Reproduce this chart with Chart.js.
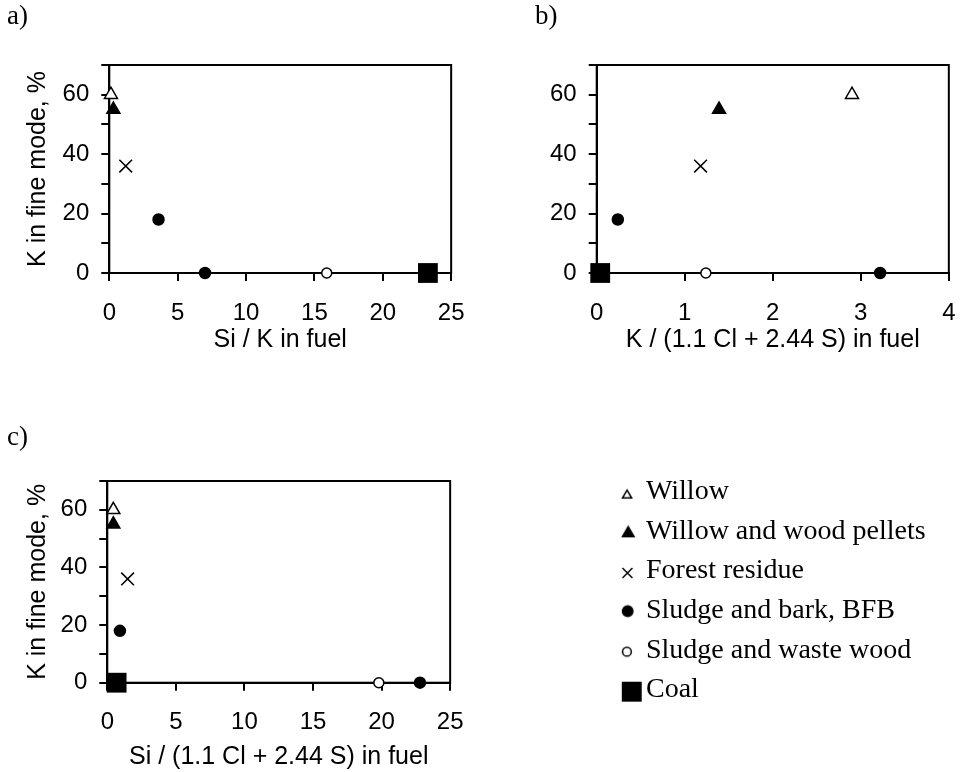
<!DOCTYPE html>
<html><head><meta charset="utf-8">
<script src="https://cdn.jsdelivr.net/npm/chart.js@4"></script>
<style>
html,body{margin:0;padding:0;background:#fff;overflow:hidden;}
body{width:960px;height:772px;position:relative;overflow:hidden;}
canvas{position:absolute;}
</style></head><body>
<canvas id="ca" width="482" height="360" style="left:0;top:0"></canvas>
<canvas id="cb" width="493" height="360" style="left:480px;top:0"></canvas>
<canvas id="cc" width="481" height="360" style="left:0;top:412px"></canvas>
<canvas id="cl" width="360" height="270" style="left:600px;top:466px"></canvas>
<script>
// ---- data ----
const seriesNames = ['Willow', 'Willow and wood pellets', 'Forest residue', 'Sludge and bark, BFB', 'Sludge and waste wood', 'Coal'];
const kFineMode = [[60], [55], [36], [18, 0], [0], [0]];           // K in fine mode, %
const siPerK = [[0.12], [0.3], [1.2], [3.6, 7.0], [15.9], [23.3]];  // panel a
const kPerClS = [[2.9], [1.39], [1.18], [0.24, 3.22], [1.24], [0.04]]; // panel b
const siPerClS = [[0.44], [0.44], [1.48], [0.92, 22.8], [19.8], [0.68]]; // panel c
const yTickLabels = [0, 20, 40, 60];
const panelLabels = ['a)', 'b)', 'c)'];
const xTitles = ['Si / K in fuel', 'K / (1.1 Cl + 2.44 S) in fuel', 'Si / (1.1 Cl + 2.44 S) in fuel'];
const yTitle = 'K in fine mode, %';

// ---- styles ----
const markerStyles = [
  {pointStyle: 'triangle', radius: 7.5, bg: '#fff', bw: 1.5},
  {pointStyle: 'triangle', radius: 7.5, bg: '#000', bw: 1.5},
  {pointStyle: 'crossRot', radius: 9, bg: '#000', bw: 1.5},
  {pointStyle: 'circle', radius: 5.5, bg: '#000', bw: 1.5},
  {pointStyle: 'circle', radius: 5, bg: '#fff', bw: 1.5},
  {pointStyle: 'rect', radius: 14, bg: '#000', bw: 0}
];
const legendMarkers = [
  {pointStyle: 'triangle', radius: 5.3, bg: '#fff', bw: 1.5, half: 5.3, dy: 3.7},
  {pointStyle: 'triangle', radius: 6.7, bg: '#000', bw: 1.5, half: 6.5, dy: 2},
  {pointStyle: 'crossRot', radius: 7, bg: '#000', bw: 1.5, half: 5.7, dy: 2},
  {pointStyle: 'circle', radius: 5.2, bg: '#000', bw: 1.5, half: 5.95, dy: 0.5},
  {pointStyle: 'circle', radius: 4.4, bg: '#fff', bw: 1.5, half: 5.15, dy: 1.4},
  {pointStyle: 'rect', radius: 14.1, bg: '#000', bw: 0, half: 10, dy: 1.7}
];

const SANS = 'Liberation Sans, Arial, sans-serif';
const SERIF = 'Liberation Serif, Times New Roman, serif';

const framePlugin = {
  id: 'frame',
  beforeDatasetsDraw(chart) {
    const {ctx, chartArea: a} = chart;
    ctx.save();
    ctx.strokeStyle = '#000';
    ctx.lineWidth = 2;
    ctx.strokeRect(a.left, a.top, a.right - a.left, a.bottom - a.top);
    ctx.restore();
  }
};

function makePanel(canvasId, xData, cfg) {
  const datasets = seriesNames.map((name, i) => ({
    label: name,
    data: xData[i].map((x, j) => ({x: x, y: kFineMode[i][j]})),
    pointStyle: markerStyles[i].pointStyle,
    pointRadius: markerStyles[i].radius,
    pointHoverRadius: markerStyles[i].radius,
    pointBackgroundColor: markerStyles[i].bg,
    pointBorderColor: '#000',
    pointBorderWidth: markerStyles[i].bw,
    showLine: false,
    clip: false
  }));
  return new Chart(document.getElementById(canvasId), {
    type: 'scatter',
    data: {datasets},
    options: {
      responsive: false,
      animation: false,
      devicePixelRatio: 1,
      events: [],
      layout: {padding: {left: cfg.padLeft, right: cfg.padRight, top: 0, bottom: 0}},
      plugins: {
        legend: {display: false},
        tooltip: {enabled: false},
        title: {
          display: true, text: cfg.label, align: 'start', color: '#000',
          font: {family: SERIF, size: 27, weight: 'normal'},
          padding: {top: cfg.titleTop, bottom: cfg.titleBottom}
        }
      },
      scales: {
        x: {
          type: 'linear', position: 'bottom', min: 0, max: cfg.xMax,
          ticks: {stepSize: cfg.xStep, color: '#000', font: {family: SANS, size: 24}, padding: 17.5, autoSkip: false, maxRotation: 0},
          grid: {display: true, drawOnChartArea: false, drawTicks: true, tickLength: 8, color: '#000', lineWidth: 2},
          border: {display: true, color: '#000', width: 2},
          title: {display: true, text: cfg.xTitle, color: '#000', font: {family: SANS, size: 25}, padding: {top: 0, bottom: cfg.xTitlePad}},
          afterFit(s) { s.height = cfg.xHeight; }
        },
        y: {
          type: 'linear', position: 'left', min: 0, max: 70,
          ticks: {stepSize: 10, color: '#000', font: {family: SANS, size: 24}, padding: 12, autoSkip: false,
                  callback: v => yTickLabels.includes(v) ? String(v) : ''},
          grid: {display: true, drawOnChartArea: false, drawTicks: true, tickLength: 8, color: '#000', lineWidth: 2},
          border: {display: true, color: '#000', width: 2},
          title: {display: cfg.yTitle, text: yTitle, color: '#000', font: {family: SANS, size: 25}, padding: {top: 16.5, bottom: 0}},
          afterFit(s) { s.width = cfg.yWidth; }
        }
      }
    },
    plugins: [framePlugin]
  });
}

makePanel('ca', siPerK, {label: panelLabels[0], xTitle: xTitles[0], xMax: 25, xStep: 5, padLeft: 7, padRight: 0,
  yWidth: 102.3, xHeight: 87, xTitlePad: 5, titleTop: 0.5, titleBottom: 32.1, yTitle: true});
makePanel('cb', kPerClS, {label: panelLabels[1], xTitle: xTitles[1], xMax: 4, xStep: 1, padLeft: 55, padRight: 0,
  yWidth: 61.7, xHeight: 87, xTitlePad: 5, titleTop: 0.5, titleBottom: 32.1, yTitle: false});
makePanel('cc', siPerClS, {label: panelLabels[2], xTitle: xTitles[2], xMax: 25, xStep: 5, padLeft: 7, padRight: 0,
  yWidth: 100.3, xHeight: 89.3, xTitlePad: 0, titleTop: 10.1, titleBottom: 26.5, yTitle: true});

// ---- legend ----
function drawMarker(ctx, m, x, y) {
  ctx.fillStyle = m.bg;
  ctx.strokeStyle = '#000';
  ctx.lineWidth = m.bw;
  if (Chart.helpers && Chart.helpers.drawPoint) {
    Chart.helpers.drawPoint(ctx, {pointStyle: m.pointStyle, radius: m.radius, borderWidth: m.bw, rotation: 0}, x, y);
  }
}
function markerImage(i) {
  const m = legendMarkers[i];
  const c = document.createElement('canvas');
  c.width = 44; c.height = 36;
  const ctx = c.getContext('2d');
  drawMarker(ctx, m, 21.87 + m.half, 18 + m.dy);
  return c;
}
const legendImages = seriesNames.map((_, i) => markerImage(i));

new Chart(document.getElementById('cl'), {
  type: 'scatter',
  data: {datasets: seriesNames.map((name) => ({label: name, data: []}))},
  options: {
    responsive: false, animation: false, devicePixelRatio: 1, events: [],
    layout: {padding: 0},
    scales: {x: {display: false}, y: {display: false}},
    plugins: {
      tooltip: {enabled: false},
      legend: {
        display: true, position: 'left', align: 'start', maxWidth: 360,
        labels: {
          usePointStyle: true, pointStyleWidth: 20.34, padding: 11.66, color: '#000',
          font: {family: SERIF, size: 28},
          generateLabels: (chart) => seriesNames.map((name, i) => ({
            text: name, pointStyle: legendImages[i], fillStyle: '#000', strokeStyle: '#000',
            lineWidth: 0, hidden: false, datasetIndex: i, fontColor: '#000'
          }))
        }
      }
    }
  }
});
</script>
</body></html>
